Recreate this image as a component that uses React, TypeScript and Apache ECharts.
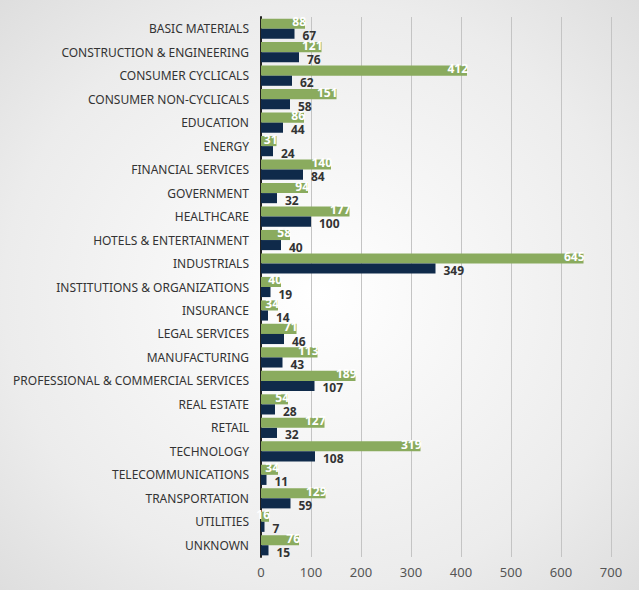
import { useEffect, useRef } from "react";
import * as echarts from "echarts";

const categories = [
  "BASIC MATERIALS", "CONSTRUCTION & ENGINEERING", "CONSUMER CYCLICALS", "CONSUMER NON-CYCLICALS",
  "EDUCATION", "ENERGY", "FINANCIAL SERVICES", "GOVERNMENT", "HEALTHCARE", "HOTELS & ENTERTAINMENT",
  "INDUSTRIALS", "INSTITUTIONS & ORGANIZATIONS", "INSURANCE", "LEGAL SERVICES", "MANUFACTURING",
  "PROFESSIONAL & COMMERCIAL SERVICES", "REAL ESTATE", "RETAIL", "TECHNOLOGY", "TELECOMMUNICATIONS",
  "TRANSPORTATION", "UTILITIES", "UNKNOWN",
];
const greenValues = [88, 121, 412, 151, 86, 31, 140, 94, 177, 58, 645, 40, 34, 71, 113, 189, 54, 127, 319, 34, 129, 16, 76];
const navyValues = [67, 76, 62, 58, 44, 24, 84, 32, 100, 40, 349, 19, 14, 46, 43, 107, 28, 32, 108, 11, 59, 7, 15];

const FONT = "Noto Sans";

export default function App() {
  const ref = useRef<HTMLDivElement | null>(null);

  useEffect(() => {
    if (!ref.current) return;
    const chart = echarts.init(ref.current, undefined, { renderer: "svg" });
    chart.setOption({
      animation: false,
      grid: { left: 261, right: 28, top: 17, bottom: 33 },
      xAxis: {
        type: "value", min: 0, max: 700, interval: 100,
        axisLabel: { color: "#555", fontSize: 13, fontFamily: FONT },
        splitLine: { lineStyle: { color: "#c4c4c4" } },
        axisLine: { show: false },
      },
      yAxis: {
        type: "category", data: categories, inverse: true,
        axisTick: { show: false },
        axisLine: { lineStyle: { color: "#222", width: 2 } },
        axisLabel: { color: "#333", fontSize: 12, fontFamily: FONT, margin: 12 },
      },
      series: [
        {
          type: "bar", data: greenValues, barGap: "0%", barCategoryGap: "14%",
          itemStyle: { color: "#8aab5e" },
          label: { show: true, position: "insideRight", offset: [6, -2], color: "#fff", fontWeight: "bold", fontSize: 12, fontFamily: FONT },
        },
        {
          type: "bar", data: navyValues,
          itemStyle: { color: "#0f2a4a" },
          label: { show: true, position: "right", offset: [0, 2], color: "#333", fontWeight: "bold", fontSize: 12, fontFamily: FONT, distance: 8 },
        },
      ],
    });
    return () => chart.dispose();
  }, []);

  return (
    <div style={{ position: "absolute", left: 0, top: 0, width: 639, height: 590, background: "radial-gradient(ellipse at center, #ffffff 0%, #ececec 70%, #dedede 100%)" }}>
      <div ref={ref} style={{ width: 639, height: 590 }} />
    </div>
  );
}
